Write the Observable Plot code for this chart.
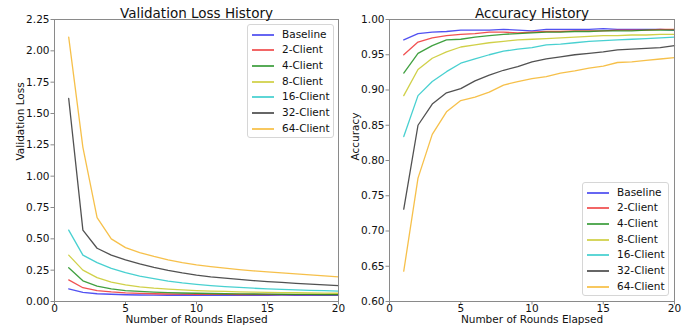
<!DOCTYPE html>
<html>
<head>
<meta charset="utf-8">
<script src="https://cdn.jsdelivr.net/npm/d3@7"></script>
<script src="https://cdn.jsdelivr.net/npm/@observablehq/plot@0.6"></script>
<style>
  html, body { margin: 0; padding: 0; background: #fff; }
  #wrap { position: relative; width: 693px; height: 328px; display: flex; font-family: "DejaVu Sans", sans-serif; }
  .legend { position: absolute; background: rgba(255,255,255,0.85); border: 1px solid #d6d6d6; border-radius: 3px; box-sizing: border-box; }
  .row { position: absolute; left: 0; height: 16px; font-size: 10.5px; color: #111; }
  .row .ln { position: absolute; top: 7px; height: 2px; }
  .row .tx { position: absolute; top: 1px; white-space: nowrap; }
</style>
</head>
<body>
<div id="wrap"></div>
<script>
const rounds = d3.range(1, 21);
const series = ["Baseline", "2-Client", "4-Client", "8-Client", "16-Client", "32-Client", "64-Client"];
const colors = ["#3333ee", "#ee3333", "#1f8f1f", "#c8c828", "#28c8c8", "#333333", "#f5b52a"];

const lossBaseline = [0.10, 0.072, 0.062, 0.058, 0.054, 0.052, 0.051, 0.050, 0.052, 0.050, 0.049, 0.051, 0.050, 0.049, 0.050, 0.051, 0.050, 0.049, 0.050, 0.050];
const loss2 = [0.172, 0.110, 0.086, 0.076, 0.069, 0.065, 0.062, 0.060, 0.059, 0.058, 0.057, 0.057, 0.056, 0.056, 0.056, 0.055, 0.055, 0.055, 0.055, 0.055];
const loss4 = [0.27, 0.165, 0.122, 0.100, 0.087, 0.080, 0.075, 0.071, 0.068, 0.066, 0.064, 0.062, 0.061, 0.060, 0.059, 0.058, 0.057, 0.057, 0.056, 0.056];
const loss8 = [0.37, 0.25, 0.19, 0.155, 0.132, 0.117, 0.106, 0.098, 0.092, 0.087, 0.083, 0.080, 0.077, 0.075, 0.073, 0.071, 0.070, 0.068, 0.067, 0.066];
const loss16 = [0.57, 0.37, 0.31, 0.265, 0.23, 0.203, 0.182, 0.163, 0.148, 0.137, 0.127, 0.119, 0.112, 0.106, 0.101, 0.096, 0.092, 0.089, 0.086, 0.083];
const loss32 = [1.62, 0.57, 0.425, 0.37, 0.332, 0.30, 0.272, 0.248, 0.228, 0.211, 0.197, 0.186, 0.176, 0.167, 0.159, 0.152, 0.145, 0.139, 0.133, 0.126];
const loss64 = [2.11, 1.23, 0.67, 0.50, 0.43, 0.39, 0.36, 0.333, 0.31, 0.293, 0.279, 0.266, 0.255, 0.245, 0.236, 0.228, 0.220, 0.213, 0.205, 0.197];

const accBaseline = [0.971, 0.980, 0.982, 0.983, 0.985, 0.985, 0.985, 0.986, 0.985, 0.984, 0.986, 0.986, 0.986, 0.986, 0.987, 0.986, 0.986, 0.986, 0.986, 0.985];
const acc2 = [0.950, 0.968, 0.974, 0.977, 0.979, 0.980, 0.982, 0.982, 0.981, 0.982, 0.983, 0.983, 0.984, 0.984, 0.984, 0.985, 0.985, 0.985, 0.986, 0.986];
const acc4 = [0.924, 0.952, 0.963, 0.971, 0.972, 0.975, 0.977, 0.979, 0.980, 0.981, 0.982, 0.982, 0.983, 0.983, 0.984, 0.984, 0.984, 0.985, 0.985, 0.985];
const acc8 = [0.892, 0.929, 0.945, 0.954, 0.961, 0.964, 0.967, 0.969, 0.971, 0.972, 0.973, 0.974, 0.975, 0.976, 0.977, 0.977, 0.978, 0.978, 0.979, 0.979];
const acc16 = [0.834, 0.892, 0.912, 0.926, 0.938, 0.944, 0.950, 0.955, 0.958, 0.960, 0.964, 0.965, 0.967, 0.969, 0.970, 0.971, 0.972, 0.973, 0.974, 0.975];
const acc32 = [0.731, 0.850, 0.880, 0.896, 0.902, 0.913, 0.921, 0.928, 0.933, 0.940, 0.944, 0.947, 0.950, 0.952, 0.954, 0.957, 0.958, 0.959, 0.960, 0.963];
const acc64 = [0.643, 0.775, 0.837, 0.869, 0.885, 0.890, 0.897, 0.907, 0.912, 0.916, 0.919, 0.924, 0.927, 0.931, 0.934, 0.939, 0.940, 0.942, 0.944, 0.946];

const xTicks = [0, 5, 10, 15, 20];
const lossTicks = d3.range(0, 2.26, 0.25);
const accTicks = d3.range(0.60, 1.001, 0.05);

const lossSeries = [lossBaseline, loss2, loss4, loss8, loss16, loss32, loss64];
const accSeries = [accBaseline, acc2, acc4, acc8, acc16, acc32, acc64];

function toRows(arrs) {
  const rows = [];
  arrs.forEach((arr, i) => arr.forEach((v, j) => rows.push({series: series[i], round: rounds[j], value: v})));
  return rows;
}

const FONT = "DejaVu Sans, sans-serif";

function chart({rows, width, ml, mr, yDomain, yTicks, title, ylabel}) {
  return Plot.plot({
    width, height: 328,
    marginTop: 19, marginBottom: 27, marginLeft: ml, marginRight: mr,
    style: {fontFamily: FONT, fontSize: "10.5px", color: "#222", background: "#fff", overflow: "visible"},
    x: {domain: [0, 20]},
    y: {domain: yDomain},
    color: {domain: series, range: colors},
    marks: [
      Plot.line(rows, {x: "round", y: "value", z: "series", stroke: "series", strokeWidth: 1.3, strokeOpacity: 0.85}),
      Plot.frame({stroke: "#8a8a8a", strokeWidth: 1}),
      Plot.axisX({ticks: xTicks, tickSize: 3.5, tickPadding: 0, label: null, stroke: "#8a8a8a", fontSize: 10.5, fill: "#111", tickFormat: d => d}),
      Plot.axisY({ticks: yTicks, tickSize: 3.5, tickPadding: 1.5, label: null, stroke: "#8a8a8a", fontSize: 10.5, fill: "#111", tickFormat: d => d.toFixed(2)}),
      Plot.text([title], {frameAnchor: "top", dy: -11, fontSize: 13.5, fill: "#111", text: d => d}),
      Plot.text(["Number of Rounds Elapsed"], {frameAnchor: "bottom", dy: 21.5, fontSize: 10.5, fill: "#111", text: d => d}),
      Plot.text([ylabel], {frameAnchor: "left", dx: -34, rotate: -90, fontSize: 10.5, fill: "#111", text: d => d})
    ]
  });
}

const wrap = document.getElementById("wrap");
wrap.appendChild(chart({rows: toRows(lossSeries), width: 346, ml: 54, mr: 8, yDomain: [0, 2.25], yTicks: lossTicks, title: "Validation Loss History", ylabel: "Validation Loss"}));
wrap.appendChild(chart({rows: toRows(accSeries), width: 347, ml: 43, mr: 19, yDomain: [0.6, 1.0], yTicks: accTicks, title: "Accuracy History", ylabel: "Accuracy"}));

function legend(left, top, lineX, lineW, textX) {
  const box = document.createElement("div");
  box.className = "legend";
  Object.assign(box.style, {left: left + "px", top: top + "px", width: "87px", height: "114px"});
  series.forEach((s, i) => {
    const r = document.createElement("div");
    r.className = "row";
    r.style.top = Math.round(1.5 + i * 15.7) + "px";
    r.style.width = "100%";
    const ln = document.createElement("div");
    ln.className = "ln";
    Object.assign(ln.style, {left: lineX + "px", width: lineW + "px", backgroundColor: colors[i], opacity: 0.75});
    const tx = document.createElement("div");
    tx.className = "tx";
    tx.style.left = textX + "px";
    tx.textContent = s;
    r.appendChild(ln); r.appendChild(tx);
    box.appendChild(r);
  });
  wrap.appendChild(box);
}
legend(247, 24, 4, 22, 34);
legend(582, 182, 4, 22, 34);
</script>
</body>
</html>
